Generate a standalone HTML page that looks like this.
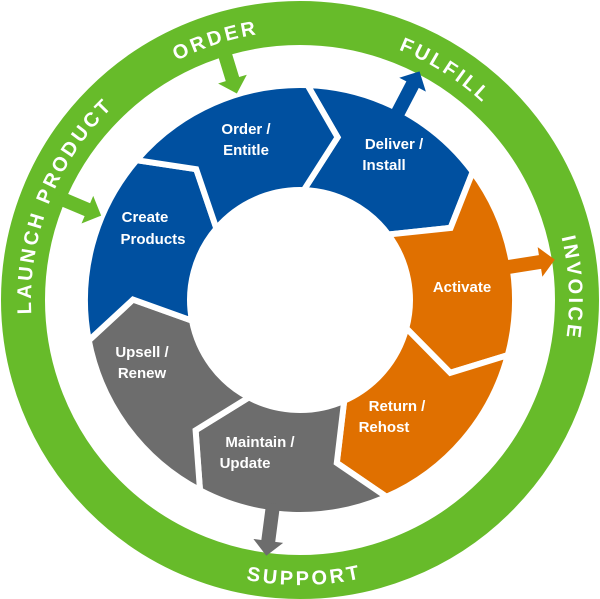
<!DOCTYPE html>
<html><head><meta charset="utf-8"><style>
html,body{margin:0;padding:0;background:#fff;width:600px;height:599px;overflow:hidden}
svg{display:block}
.l{font-family:"Liberation Sans",sans-serif;font-weight:bold;font-size:15px;fill:#fff}
.g{font-family:"Liberation Sans",sans-serif;font-weight:bold;font-size:20px;fill:#fff;letter-spacing:3px}
</style></head><body>
<svg id="s" width="600" height="599" viewBox="0 0 600 599" xmlns="http://www.w3.org/2000/svg">
<defs>
<path id="cw" d="M300,31 A269,269 0 1,1 299.9,31"/>
<path id="cwL" d="M300,569 A269,269 0 1,1 300.1,569"/>
<path id="ccw" d="M15,300 A285,285 0 0,0 585,300"/>
</defs>
<circle cx="300" cy="300" r="277" fill="none" stroke="#67bb2a" stroke-width="44"/>
<g id="segs"></g>
<g id="arrows"></g>
<text class="g"><textPath href="#cw" startOffset="95%" text-anchor="middle">ORDER</textPath></text>
<text class="g"><textPath href="#cw" startOffset="9%" text-anchor="middle">FULFILL</textPath></text>
<text class="g"><textPath href="#cw" startOffset="24.3%" text-anchor="middle">INVOICE</textPath></text>
<text class="g"><textPath href="#cwL" startOffset="31%" text-anchor="middle">LAUNCH PRODUCT</textPath></text>
<text class="g"><textPath href="#ccw" startOffset="50.5%" text-anchor="middle">SUPPORT</textPath></text>
<g class="l" text-anchor="middle">
<text x="246" y="134">Order /</text><text x="246" y="155">Entitle</text>
<text x="394" y="149">Deliver /</text><text x="384" y="170">Install</text>
<text x="145" y="222">Create</text><text x="153" y="244">Products</text>
<text x="462" y="292">Activate</text>
<text x="142" y="357">Upsell /</text><text x="142" y="378">Renew</text>
<text x="397" y="411">Return /</text><text x="384" y="432">Rehost</text>
<text x="260" y="447">Maintain /</text><text x="245" y="468">Update</text>
</g>
</svg>
<script>
var cx=300,cy=300,R=215,r=110,rm=167,tw=11,off=2,step=360/7;
function P(a,rad){a=a*Math.PI/180;return (cx+rad*Math.sin(a)).toFixed(1)+","+(cy-rad*Math.cos(a)).toFixed(1);}
var cols=["#0050a0","#e07000","#e07000","#6d6d6d","#6d6d6d","#0050a0","#0050a0"];
var h="";
for(var i=0;i<7;i++){var a=off+i*step,b=a+step;
h+='<path d="M'+P(a,R)+' A'+R+','+R+' 0 0,1 '+P(b,R)+' L'+P(b+tw,rm)+' L'+P(b,r)+' A'+r+','+r+' 0 0,0 '+P(a,r)+' L'+P(a+tw,rm)+' Z" fill="'+cols[i]+'" stroke="#fff" stroke-width="6" stroke-linejoin="miter"/>';}
document.getElementById("segs").innerHTML=h;
function arrow(ang,r1,r2,col){
 var dir=r2>r1?1:-1,hl=15;
 var y1=cy-r1,y2=cy-r2,yh=cy-(r2-dir*hl);
 var pts=[[cx-7,y1],[cx+7,y1],[cx+7,yh],[cx+15,yh],[cx,y2],[cx-15,yh],[cx-7,yh]];
 return '<polygon points="'+pts.map(function(p){return p.join(",")}).join(" ")+'" fill="'+col+'" transform="rotate('+ang+' 300 300)"/>';}
var ah=arrow(-17,262,216,"#67bb2a")+arrow(-67,262,216,"#67bb2a")+arrow(27.6,205,258,"#0050a0")+arrow(81,205,258,"#e07000")+arrow(187.5,205,258,"#6d6d6d");
document.getElementById("arrows").innerHTML=ah;
</script>
</body></html>
